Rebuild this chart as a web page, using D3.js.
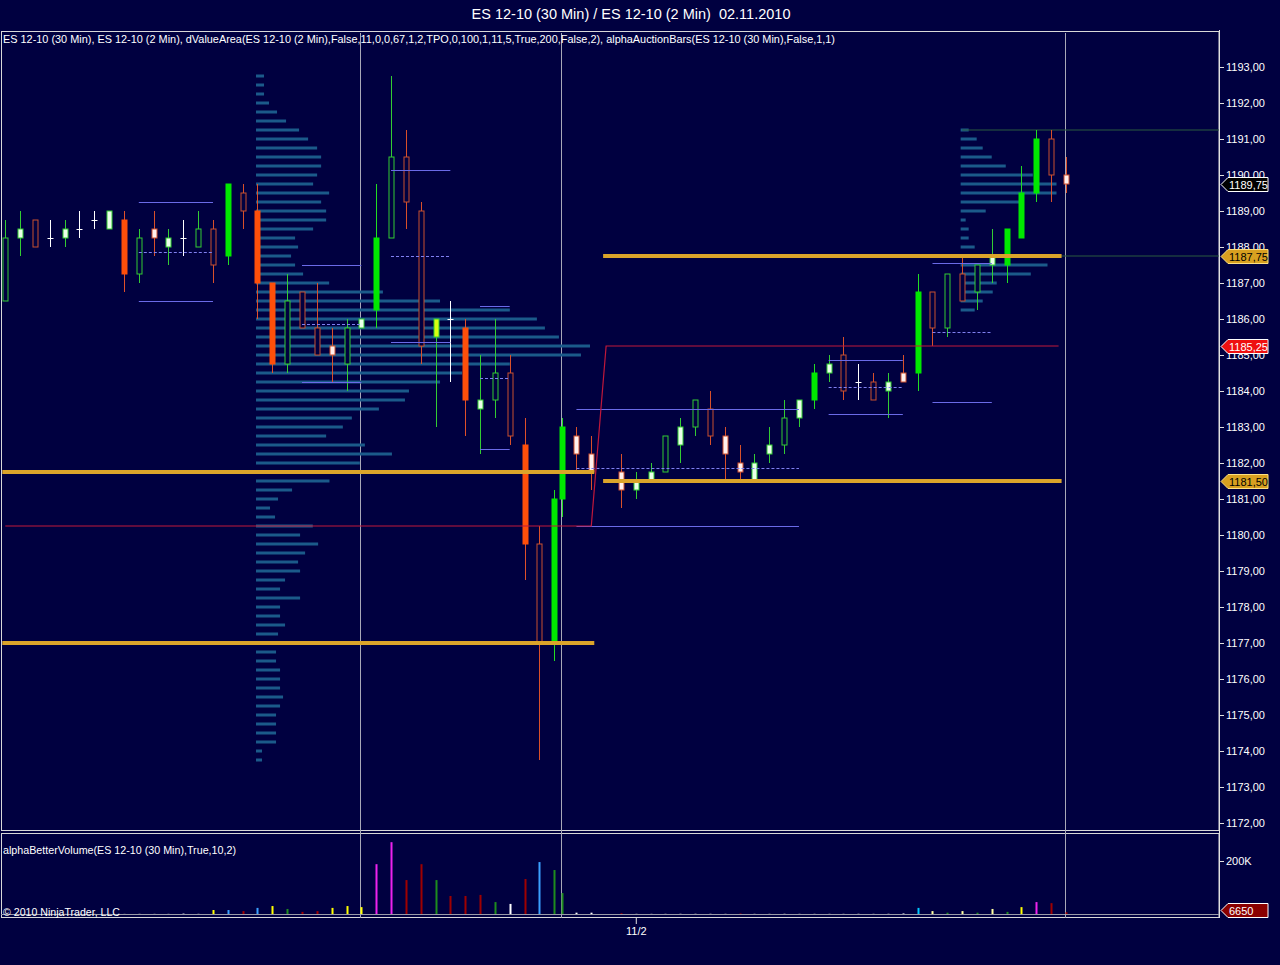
<!DOCTYPE html>
<html><head><meta charset="utf-8">
<script src="https://cdn.jsdelivr.net/npm/d3@7"></script>
<style>body{margin:0;background:#000040;overflow:hidden}svg{display:block}</style>
</head><body><svg id="c" width="1280" height="965"></svg>
<script>
// ---------------- DATA ----------------
const barTimes = [
"2010-10-31 20:30","2010-10-31 21:00","2010-10-31 21:30","2010-10-31 22:00","2010-10-31 22:30","2010-10-31 23:00","2010-10-31 23:30",
"2010-11-01 00:00","2010-11-01 00:30","2010-11-01 01:00","2010-11-01 01:30","2010-11-01 02:00","2010-11-01 02:30","2010-11-01 03:00",
"2010-11-01 03:30","2010-11-01 04:00","2010-11-01 04:30","2010-11-01 05:00","2010-11-01 05:30","2010-11-01 06:00","2010-11-01 06:30",
"2010-11-01 07:00","2010-11-01 07:30","2010-11-01 08:00","2010-11-01 08:30","2010-11-01 09:00","2010-11-01 09:30","2010-11-01 10:00",
"2010-11-01 10:30","2010-11-01 11:00","2010-11-01 11:30","2010-11-01 12:00","2010-11-01 12:30","2010-11-01 13:00","2010-11-01 13:30",
"2010-11-01 14:00","2010-11-01 14:30","2010-11-01 15:00","2010-11-01 15:15","2010-11-01 15:45","2010-11-01 16:15",
"2010-11-01 17:15","2010-11-01 17:45","2010-11-01 18:15","2010-11-01 18:45","2010-11-01 19:15","2010-11-01 19:45","2010-11-01 20:15",
"2010-11-01 20:45","2010-11-01 21:15","2010-11-01 21:45","2010-11-01 22:15","2010-11-01 22:45","2010-11-01 23:15","2010-11-01 23:45",
"2010-11-02 00:15","2010-11-02 00:45","2010-11-02 01:15","2010-11-02 01:45","2010-11-02 02:15","2010-11-02 02:45","2010-11-02 03:15",
"2010-11-02 03:45","2010-11-02 04:15","2010-11-02 04:45","2010-11-02 05:15","2010-11-02 05:45","2010-11-02 06:15","2010-11-02 06:45",
"2010-11-02 07:15","2010-11-02 07:45","2010-11-02 08:15"];
const barTypes = ["GH","GL","RH","D","GL","D","D","GL","RF","GH","RL","GL","D","GH","RH","GF","RH","RF","RF","GH","RH","RH","RL","GH","GL",
"GF","GH","RH","RH","Y","D","RF","GL","GH","RH","RF","RH","GF","GF","RL","RL","RL","GL","GL","GH","GL","GH","RH","RL","RL","GL","GL","GH",
"GL","GF","GL","RH","D","RH","GL","RL","GF","RH","GH","RH","GH","GL","GF","GF","GF","RH","RL"];
const opens = [1186.5,1188.25,1188.75,1188.25,1188.25,1188.5,1188.75,1188.5,1188.75,1187.25,1188.5,1188,1188.25,1188,1188.5,1187.75,1189.5,1189,
1187,1184.75,1186.75,1185.75,1185.25,1184.75,1185.75,1186.25,1188.25,1190.5,1189,1185.5,1186,1185.75,1183.5,1183.75,1184.5,1182.5,1179.75,1177,
1181,1182.75,1182.25,1181.75,1181.25,1181.5,1181.75,1182.5,1183,1183.5,1182.75,1182,1181.5,1182.25,1182.5,1183.25,1183.75,1184.5,1185,1184.25,
1184.25,1184,1184.5,1184.5,1186.75,1185.75,1187.25,1186.75,1187.5,1187.5,1188.25,1189.5,1191,1190];
const highs = [1188.75,1189,1188.75,1188.75,1188.75,1189,1189,1189,1189,1188.5,1189,1188.5,1188.75,1189,1188.75,1189.75,1189.75,1189.75,1187,
1187.25,1186.75,1187,1185.75,1186,1186,1189.75,1192.75,1191.25,1189.25,1186,1186.5,1186,1185,1186,1185,1183.25,1180.25,1181.25,1183.25,1183,
1182.75,1182.25,1181.75,1182,1182.75,1183.25,1183.75,1184,1183,1182.5,1182.25,1183,1183.75,1183.75,1184.75,1185,1185.5,1184.75,1184.5,1184.5,
1185,1187.25,1186.75,1187.25,1187.75,1187.5,1188.5,1188.5,1190.25,1191.25,1191.25,1190.5];
const lows = [1186.5,1187.75,1188,1188,1188,1188.25,1188.5,1188.5,1186.75,1187,1187.75,1187.5,1187.75,1188,1187,1187.5,1188.5,1186,1184.5,1184.5,
1185.75,1185,1184.25,1184,1185.75,1185.75,1188.25,1188.5,1184.75,1183,1184.25,1182.75,1182.25,1183.25,1182.5,1178.75,1173.75,1176.5,1180.5,
1181.75,1181.25,1180.75,1181,1181.5,1181.75,1182,1182.75,1182.5,1181.5,1181.5,1181.5,1182,1182.25,1183,1183.5,1184.25,1183.75,1183.75,1183.75,
1183.25,1184.25,1184,1185.25,1185.5,1186.5,1186.25,1187,1187,1188.25,1189.25,1189.25,1189.5];
const closes = [1188.25,1188.5,1188,1188.25,1188.5,1188.5,1188.75,1189,1187.25,1188.25,1188.25,1188.25,1188.25,1188.5,1187.5,1189.75,1189,1187,
1184.75,1186.5,1185.75,1185,1185,1185.75,1186,1188.25,1190.5,1189.25,1185.25,1186,1186,1183.75,1183.75,1184.5,1182.75,1179.75,1177,1181,1183,
1182.25,1181.75,1181.25,1181.5,1181.75,1182.75,1183,1183.75,1182.75,1182.25,1181.75,1182,1182.5,1183.25,1183.75,1184.5,1184.75,1184,1184.25,
1183.75,1184.25,1184.25,1186.75,1185.75,1187.25,1186.5,1187.5,1187.75,1188.5,1189.5,1191,1190,1189.75];
const volumes = [1,1,1,1,1,1,1,1,1,1.5,1.2,1.2,1.5,1.5,15,15,11,23,30,19,8,11,23,30,26,188,271,128,188,128,68,68,72,45,38,132,196,166,79,
5,5,3,1.5,1.5,1.5,2,2,2,1.5,2,1.5,1.5,2,1.5,1.5,1.5,1.5,2,1.5,2,2,23,11,5,11,5,19,8,26,45,41,6.65];
const volTypes = ["N","N","N","N","N","N","N","N","N","N","N","N","W","N","Y","B","R","B","Y","G","R","R","Y","Y","Y","M","M","R","R","G","R",
"R","R","G","W","R","B","G","G","W","W","R","N","N","N","N","N","N","N","R","N","N","N","N","N","N","N","N","N","N","W","C","L","G","L","G",
"L","G","Y","M","R","R"];

// TPO / volume profiles (one value per 0.25 tick, from top price downward)
const profile1Start = "2010-11-01 05:00";
const profile1Top = 1192.75;
const profile1 = [2.4,2.4,2.4,3.9,6.3,9,12.9,15.6,18.3,19.5,19.5,18.3,17.1,21.9,19.5,21,21,17.1,11.7,12.6,10.5,11.7,14.1,21.9,38,55.1,76,84.1,
86.5,90.7,100,97.3,76,61.7,55.1,45.8,44.6,36.8,28.7,26,21,32.6,40.7,31.1,30,22,10.8,6.6,4.2,5.7,17,13.2,18.6,14.7,12.6,13.2,8.7,7.2,13.2,7.2,
7.2,8.7,6.6,7.2,6,6,7.2,7.2,7.2,8.1,7.2,6,6,6,6,1.8,1.8];
const profile2Start = "2010-11-02 04:45";
const profile2Top = 1191.25;
const profile2 = [2.4,4.8,6.6,9.3,13.5,21.6,28.7,28.7,17.7,7.5,1.5,2.4,2.4,4.2,4.2,26,21,10.8,9.6,6.6,4.2];

// value area lines: [start, end, price, dashed]
const vaStart = ["2010-11-01 01:00","2010-11-01 01:00","2010-11-01 01:00","2010-11-01 06:30","2010-11-01 06:30","2010-11-01 06:30",
"2010-11-01 09:30","2010-11-01 09:30","2010-11-01 09:30","2010-11-01 12:30","2010-11-01 12:30","2010-11-01 12:30",
"2010-11-01 15:45","2010-11-01 15:45","2010-11-01 15:45","2010-11-02 00:15","2010-11-02 00:15","2010-11-02 00:15",
"2010-11-02 03:45","2010-11-02 03:45","2010-11-02 03:45"];
const vaEnd = ["2010-11-01 03:30","2010-11-01 03:30","2010-11-01 03:30","2010-11-01 08:30","2010-11-01 08:30","2010-11-01 08:30",
"2010-11-01 11:30","2010-11-01 11:30","2010-11-01 11:30","2010-11-01 13:30","2010-11-01 13:30","2010-11-01 13:30",
"2010-11-01 23:15","2010-11-01 23:15","2010-11-01 23:15","2010-11-02 02:45","2010-11-02 02:45","2010-11-02 02:45",
"2010-11-02 05:45","2010-11-02 05:45","2010-11-02 05:45"];
const vaPrice = [1189.25,1187.875,1186.5,1187.5,1185.875,1184.25,1190.125,1187.75,1185.375,1186.375,1184.375,1182.4,
1183.5,1181.875,1180.25,1184.875,1184.125,1183.375,1187.56,1185.625,1183.69];
const vaDashed = [0,1,0,0,1,0,0,1,0,0,1,0,0,1,0,0,1,0,0,1,0];

// gold levels
const goldStart = ["2010-10-31 20:30","2010-10-31 20:30","2010-11-01 16:45","2010-11-01 16:45"];
const goldEnd = ["2010-11-01 16:15","2010-11-01 16:15","2010-11-02 08:00","2010-11-02 08:00"];
const goldPrice = [1181.75,1177.0,1187.75,1181.5];
// red pivot line
const redTimes = ["2010-10-31 20:30","2010-11-01 16:15","2010-11-01 16:45","2010-11-02 08:00"];
const redPrices = [1180.25,1180.25,1185.25,1185.25];
// dark green extension lines
const extStart = "2010-11-02 04:45";
const extPrices = [1191.25,1187.75];
// session lines
const sessionTimes = ["2010-11-01 08:30","2010-11-01 15:15","2010-11-02 08:15"];
const dateTickTimes = ["2010-11-01 17:45"];
const dateTickLabels = ["11/2"];
const priceTicks = [1172,1173,1174,1175,1176,1177,1178,1179,1180,1181,1182,1183,1184,1185,1186,1187,1188,1189,1190,1191,1192,1193];
const markerPrices = [1189.75,1187.75,1185.25,1181.5];
const markerTypes = ["last","gold","red","gold"];
const volTick = [200];
const lastVolume = 6650;

// ---------------- DRAW ----------------
const parse = d3.timeParse("%Y-%m-%d %H:%M");
const T = barTimes.map(parse);
const svg = d3.select("#c");
const BG = "#000040";
const font = "'Liberation Sans', Arial, sans-serif";
svg.append("rect").attr("width",1280).attr("height",965).attr("fill",BG);

const x = d3.scaleTime().domain([T[0], T[T.length-1]]).range([5.3, 1066]);
const y = d3.scaleLinear().domain([1172,1193]).range([823,67]);
const yv = d3.scaleLinear().domain([0,200]).range([914,861]);
const pl = d3.scaleLinear().domain([0,100]).range([0,334]);
const tick = 0.25;

// panels frames
svg.append("rect").attr("x",1.5).attr("y",31.5).attr("width",1217.5).attr("height",799).attr("fill","none").attr("stroke","#d8d8d8").attr("stroke-width",1);
svg.append("rect").attr("x",1.5).attr("y",833.5).attr("width",1217.5).attr("height",84).attr("fill","none").attr("stroke","#d8d8d8").attr("stroke-width",1);
svg.append("line").attr("x1",1).attr("x2",1219).attr("y1",yv(0)+0.5).attr("y2",yv(0)+0.5).attr("stroke","#9a9aa8").attr("stroke-width",1);

// session lines
svg.append("g").selectAll("line").data(sessionTimes).join("line")
  .attr("x1",d=>Math.round(x(parse(d)))-0.5).attr("x2",d=>Math.round(x(parse(d)))-0.5)
  .attr("y1",33).attr("y2",918).attr("stroke","#a8a8b8").attr("stroke-width",1);

// profiles
function drawProfile(start, top, vals){
  const x0 = x(parse(start)) - 1.5;
  svg.append("g").selectAll("rect").data(vals).join("rect")
    .attr("x",x0).attr("y",(d,i)=>y(top - i*tick)-1.5)
    .attr("width",d=>pl(d)).attr("height",3).attr("fill","#1b5a8a");
}
drawProfile(profile1Start, profile1Top, profile1);
drawProfile(profile2Start, profile2Top, profile2);

// extension lines
svg.append("g").selectAll("line").data(extPrices).join("line")
  .attr("x1",x(parse(extStart))).attr("x2",1219).attr("y1",d=>y(d)).attr("y2",d=>y(d))
  .attr("stroke","#2a5a3e").attr("stroke-width",1.2);

// candles
const style = {
  GF:{fill:"#00e800",stroke:"#00e800",wick:"#22dd22"},
  GH:{fill:BG,stroke:"#33cc33",wick:"#33cc33"},
  GL:{fill:"#eaffea",stroke:"#33cc33",wick:"#33cc33"},
  RF:{fill:"#ff4f0a",stroke:"#ff4f0a",wick:"#e0502a"},
  RH:{fill:BG,stroke:"#c8502e",wick:"#d8502a"},
  RL:{fill:"#fff0ee",stroke:"#d0502e",wick:"#d8502a"},
  Y:{fill:"#d8ff10",stroke:"#33cc33",wick:"#33cc33"},
  D:{fill:"#ffffff",stroke:"#ffffff",wick:"#ffffff"}
};
const cg = svg.append("g");
T.forEach((t,i)=>{
  const cx = Math.round(x(t)) + 0.5, s = style[barTypes[i]];
  cg.append("line").attr("x1",cx).attr("x2",cx).attr("y1",y(highs[i])).attr("y2",y(lows[i])).attr("stroke",s.wick).attr("stroke-width",1);
  if(barTypes[i]==="D"){
    cg.append("line").attr("x1",cx-3).attr("x2",cx+3).attr("y1",Math.round(y(closes[i]))+0.5).attr("y2",Math.round(y(closes[i]))+0.5).attr("stroke","#fff");
  } else {
    const top = y(Math.max(opens[i],closes[i])), bot = y(Math.min(opens[i],closes[i]));
    cg.append("rect").attr("x",cx-2.5).attr("y",top).attr("width",5).attr("height",Math.max(1,bot-top))
      .attr("fill",s.fill).attr("stroke",s.stroke).attr("stroke-width",1);
  }
});

// value area lines
svg.append("g").selectAll("line").data(vaPrice).join("line")
  .attr("x1",(d,i)=>x(parse(vaStart[i]))).attr("x2",(d,i)=>x(parse(vaEnd[i])))
  .attr("y1",d=>Math.round(y(d))+0.5).attr("y2",d=>Math.round(y(d))+0.5)
  .attr("stroke",(d,i)=>vaDashed[i]?"#8080f0":"#6a6ae8").attr("stroke-width",1)
  .attr("stroke-dasharray",(d,i)=>vaDashed[i]?"3,2":null);

// red pivot line
svg.append("path").datum(redTimes.map((t,i)=>[parse(t),redPrices[i]]))
  .attr("d",d3.line().x(d=>x(d[0])).y(d=>y(d[1])))
  .attr("fill","none").attr("stroke","#c0183a").attr("stroke-width",1.2);

// gold levels
svg.append("g").selectAll("line").data(goldPrice).join("line")
  .attr("x1",(d,i)=>x(parse(goldStart[i]))-3).attr("x2",(d,i)=>x(parse(goldEnd[i]))+3)
  .attr("y1",d=>y(d)).attr("y2",d=>y(d)).attr("stroke","#dba42a").attr("stroke-width",4);

// volume bars
const vcol = {N:"#6a6a80",W:"#ffffff",Y:"#ffff00",B:"#3aa0ff",R:"#a00000",G:"#1e8c1e",M:"#ee22ee",C:"#00c8ff",L:"#ffffa0"};
svg.append("g").selectAll("rect").data(volumes).join("rect")
  .attr("x",(d,i)=>Math.round(x(T[i]))-0.5).attr("width",2)
  .attr("y",d=>yv(d)).attr("height",d=>yv(0)-yv(d)).attr("fill",(d,i)=>vcol[volTypes[i]]);

// price axis
const fmt = v => d3.format(".2f")(v).replace(".",",");
const ax = svg.append("g").attr("transform","translate(1219,0)")
  .call(d3.axisRight(y).tickValues(priceTicks).tickSize(5).tickPadding(2).tickFormat(fmt));
ax.select(".domain").attr("stroke","#e0e0e0").attr("d","M0.5,30V918");
ax.selectAll("line").attr("stroke","#e0e0e0");
ax.selectAll("text").attr("fill","#ffffff").style("font-family",font).style("font-size","11px");

// volume axis
const vax = svg.append("g").attr("transform","translate(1219,0)")
  .call(d3.axisRight(yv).tickValues(volTick).tickSize(5).tickPadding(2).tickFormat(d=>d+"K"));
vax.select(".domain").remove();
vax.selectAll("line").attr("stroke","#e0e0e0");
vax.selectAll("text").attr("fill","#ffffff").style("font-family",font).style("font-size","11px");

// time axis
const tax = svg.append("g").attr("transform","translate(0,918)")
  .call(d3.axisBottom(x).tickValues(dateTickTimes.map(parse)).tickSize(6).tickPadding(3).tickFormat((d,i)=>dateTickLabels[i]));
tax.select(".domain").remove();
tax.selectAll("line").attr("stroke","#e0e0e0");
tax.selectAll("text").attr("fill","#ffffff").style("font-family",font).style("font-size","11px");

// markers on price axis
const mstyle = {last:{fill:"#000000",stroke:"#ffffff",text:"#ffffff"},gold:{fill:"#d8a020",stroke:"#ffe080",text:"#000000"},red:{fill:"#ee1010",stroke:"#ffffff",text:"#ffffff"}};
function flag(yy, label, st){
  const g = svg.append("g");
  g.append("path").attr("d",`M1221,${yy} L1228,${yy-7} L1268,${yy-7} L1268,${yy+7} L1228,${yy+7} Z`)
    .attr("fill",st.fill).attr("stroke",st.stroke).attr("stroke-width",1);
  g.append("text").attr("x",1229).attr("y",yy+4).attr("fill",st.text).style("font-family",font).style("font-size","11px").text(label);
}
markerPrices.forEach((p,i)=>flag(Math.round(y(p))+0.5, fmt(p), mstyle[markerTypes[i]]));
flag(Math.round(yv(lastVolume/1000))-1.5, String(lastVolume), {fill:"#8a0000",stroke:"#ffffff",text:"#ffffff"});

// texts
svg.append("text").attr("x",631).attr("y",19).attr("text-anchor","middle").attr("fill","#fff")
  .style("font-family",font).style("font-size","14.5px").text("ES 12-10 (30 Min) / ES 12-10 (2 Min)  02.11.2010").attr("xml:space","preserve");
svg.append("text").attr("x",3).attr("y",43).attr("fill","#fff").style("font-family",font).style("font-size","10.5px")
  .attr("textLength",832).attr("lengthAdjust","spacingAndGlyphs")
  .text("ES 12-10 (30 Min), ES 12-10 (2 Min), dValueArea(ES 12-10 (2 Min),False,11,0,0,67,1,2,TPO,0,100,1,11,5,True,200,False,2), alphaAuctionBars(ES 12-10 (30 Min),False,1,1)");
svg.append("text").attr("x",3).attr("y",854).attr("fill","#fff").style("font-family",font).style("font-size","10.5px")
  .attr("textLength",233).attr("lengthAdjust","spacingAndGlyphs").text("alphaBetterVolume(ES 12-10 (30 Min),True,10,2)");
svg.append("text").attr("x",3).attr("y",916).attr("fill","#fff").style("font-family",font).style("font-size","10.5px")
  .attr("textLength",117).attr("lengthAdjust","spacingAndGlyphs").text("© 2010 NinjaTrader, LLC");
</script></body></html>
